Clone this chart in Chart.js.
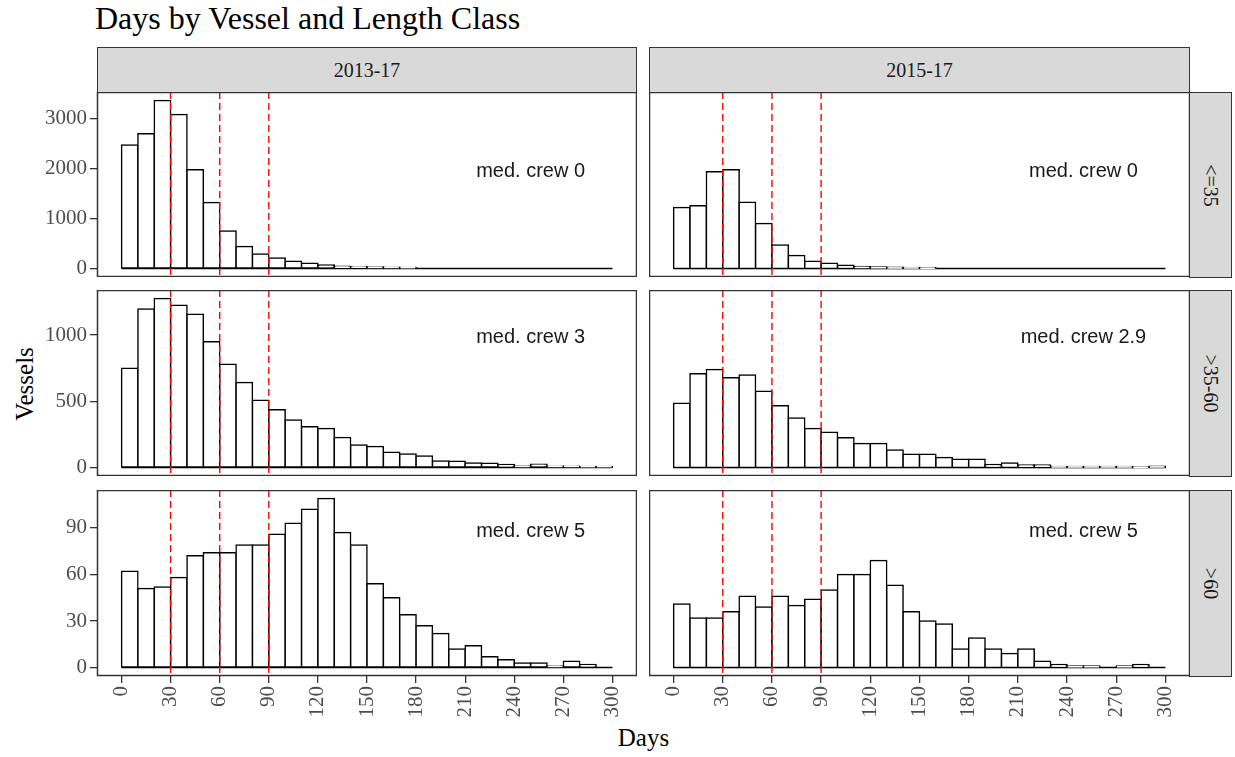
<!DOCTYPE html>
<html>
<head>
<meta charset="utf-8">
<script src="https://cdn.jsdelivr.net/npm/chart.js@4.4.1/dist/chart.umd.min.js"></script>
<style>
  body { margin: 0; background: #fff; width: 1235px; height: 757px; position: relative; overflow: hidden; font-family: "Liberation Serif", serif; }
  .box { position: absolute; }
  .strip { position: absolute; background: #d9d9d9; border: 1px solid #333; box-sizing: border-box;
           display: flex; align-items: center; justify-content: center; color: #1a1a1a; font-size: 20px; }
  .strip.side span { transform: rotate(90deg); white-space: nowrap; }
  #title { position: absolute; left: 95px; top: 2px; font-size: 32px; line-height: 32px; color: #000; white-space: nowrap; }
  #xtitle { position: absolute; left: 0; width: 1287px; top: 724px; text-align: center; font-size: 25px; color: #000; }
  #ytitle { position: absolute; left: 25px; top: 384px; font-size: 25px; color: #000; transform: translate(-50%, -50%) rotate(-90deg); white-space: nowrap; }
</style>
</head>
<body>
<div id="title">Days by Vessel and Length Class</div>
<div id="ytitle">Vessels</div>
<div id="xtitle">Days</div>

<script>
// bins of 10 days, 0..300
const binMids = [5, 15, 25, 35, 45, 55, 65, 75, 85, 95, 105, 115, 125, 135, 145,
                 155, 165, 175, 185, 195, 205, 215, 225, 235, 245, 255, 265, 275, 285, 295];
const xTicks = [0, 30, 60, 90, 120, 150, 180, 210, 240, 270, 300];
const cutoffDays = [30, 60, 90];

const periods = ["2013-17", "2015-17"];
const lengthClasses = ["<=35", ">35-60", ">60"];

// vessel counts per bin
const small1317 = [2467, 2693, 3360, 3080, 1973, 1320, 753, 440, 293, 213, 147, 107, 73, 45, 38,
                   32, 27, 22, 0, 0, 0, 0, 0, 0, 0, 0, 0, 0, 0, 0];
const small1517 = [1220, 1253, 1933, 1973, 1327, 900, 473, 260, 147, 107, 67, 40, 32, 25, 20,
                   15, 0, 0, 0, 0, 0, 0, 0, 0, 0, 0, 0, 0, 0, 0];
const mid1317 = [749, 1196, 1276, 1224, 1156, 950, 779, 641, 508, 437, 359, 307, 294, 226, 171,
                 158, 116, 103, 88, 50, 48, 35, 33, 23, 12, 25, 10, 10, 8, 8];
const mid1517 = [485, 708, 739, 678, 698, 575, 467, 374, 294, 266, 224, 181, 181, 133, 100,
                 100, 75, 63, 63, 23, 35, 20, 20, 8, 8, 8, 8, 8, 2, 10];
const large1317 = [62, 51, 52, 58, 72, 74, 74, 79, 79, 86, 93, 102, 109, 87, 79,
                   54, 45, 34, 27, 22, 12, 14, 7, 5, 3, 3, 1, 4, 2, 0];
const large1517 = [41, 32, 32, 36, 46, 39, 46, 40, 44, 50, 60, 60, 69, 53, 36,
                   30, 28, 12, 19, 12, 9, 12, 4, 2, 1, 1, 0, 1, 2, 0];

const yTicksSmall = [0, 1000, 2000, 3000];
const yTicksMid = [0, 500, 1000];
const yTicksLarge = [0, 30, 60, 90];

const crewSmall = ["med. crew 0", "med. crew 0"];
const crewMid = ["med. crew 3", "med. crew 2.9"];
const crewLarge = ["med. crew 5", "med. crew 5"];
const crewLabelX = 250;
const crewLabelY = [1950, 980, 88];

const rows = [
  { series: [small1317, small1517], yTicks: yTicksSmall, crew: crewSmall },
  { series: [mid1317, mid1517], yTicks: yTicksMid, crew: crewMid },
  { series: [large1317, large1517], yTicks: yTicksLarge, crew: crewLarge }
];

// panel geometry
const colLeft = [97, 649], colRight = [637, 1190];
const rowTop = [92, 290, 490], rowBottom = [277, 476, 676];
const axisLeft = 30, axisBottom = 732;
const tickFont = { family: "Liberation Serif", size: 21 };

function place(cls, x, y, w, h, text) {
  const d = document.createElement("div");
  d.className = cls;
  d.style.left = x + "px"; d.style.top = y + "px";
  d.style.width = w + "px"; d.style.height = h + "px";
  d.innerHTML = "<span></span>";
  d.firstChild.textContent = text;
  document.body.appendChild(d);
}

periods.forEach((p, c) => place("strip", colLeft[c], 47, colRight[c] - colLeft[c], 46, p));
lengthClasses.forEach((l, r) => place("strip side", 1189, rowTop[r], 43, rowBottom[r] - rowTop[r] + 1, l));

const panelDecor = {
  id: "panelDecor",
  beforeDatasetsDraw(chart) {
    const { ctx, scales: { x, y } } = chart;
    const y0 = y.getPixelForValue(0);
    ctx.save();
    ctx.strokeStyle = "#000";
    ctx.lineWidth = 1.5;
    ctx.beginPath();
    ctx.moveTo(x.getPixelForValue(xTicks[0]), y0);
    ctx.lineTo(x.getPixelForValue(xTicks[xTicks.length - 1]), y0);
    ctx.stroke();
    ctx.restore();
  },
  afterDatasetsDraw(chart, args, opts) {
    const { ctx, chartArea: a, scales: { x, y } } = chart;
    ctx.save();
    ctx.strokeStyle = "#ff0000";
    ctx.lineWidth = 1.4;
    ctx.setLineDash([7, 4]);
    cutoffDays.forEach(d => {
      const px = x.getPixelForValue(d);
      ctx.beginPath();
      ctx.moveTo(px, a.top);
      ctx.lineTo(px, a.bottom);
      ctx.stroke();
    });
    ctx.setLineDash([]);
    ctx.fillStyle = "#1a1a1a";
    ctx.font = '20px "Liberation Sans"';
    ctx.textAlign = "center";
    ctx.textBaseline = "middle";
    ctx.fillText(opts.label, x.getPixelForValue(crewLabelX), y.getPixelForValue(opts.labelY));
    ctx.strokeStyle = "#333";
    ctx.lineWidth = 1.5;
    ctx.strokeRect(a.left + 0.5, a.top + 0.5, a.right - a.left - 1, a.bottom - a.top - 1);
    ctx.restore();
  }
};

rows.forEach((row, r) => {
  const rowMax = Math.max(...row.series[0], ...row.series[1]);
  row.series.forEach((vals, c) => {
    const showY = c === 0, showX = r === 2;
    const left = showY ? axisLeft : colLeft[c];
    const bottom = showX ? axisBottom : rowBottom[r];
    const box = document.createElement("div");
    box.className = "box";
    box.style.left = left + "px";
    box.style.top = rowTop[r] + "px";
    box.style.width = (colRight[c] - left) + "px";
    box.style.height = (bottom - rowTop[r]) + "px";
    const cv = document.createElement("canvas");
    box.appendChild(cv);
    document.body.appendChild(box);

    new Chart(cv, {
      type: "bar",
      data: {
        datasets: [{
          data: binMids.map((m, i) => ({ x: m, y: vals[i] })),
          backgroundColor: "#ffffff",
          borderColor: "#000000",
          borderWidth: 1.5,
          borderSkipped: false,
          inflateAmount: 0.75,
          barPercentage: 1,
          categoryPercentage: 1
        }]
      },
      options: {
        responsive: true,
        maintainAspectRatio: false,
        animation: false,
        devicePixelRatio: 1,
        layout: { padding: 0 },
        plugins: {
          legend: { display: false },
          tooltip: { enabled: false },
          panelDecor: { label: row.crew[c], labelY: crewLabelY[r] }
        },
        scales: {
          x: {
            type: "linear",
            display: showX,
            offset: false,
            min: xTicks[0] - 0.05 * (xTicks[xTicks.length - 1] - xTicks[0]),
            max: xTicks[xTicks.length - 1] + 0.05 * (xTicks[xTicks.length - 1] - xTicks[0]),
            afterBuildTicks: s => { s.ticks = xTicks.map(v => ({ value: v })); },
            afterFit: s => {
              s.paddingLeft = 0; s.paddingRight = 0;
              if (showX) s.height = axisBottom - rowBottom[2];
            },
            border: { display: false },
            grid: { display: true, offset: false, drawOnChartArea: false, drawTicks: true, tickLength: 7, color: "#333", lineWidth: 1.3 },
            ticks: { color: "#4d4d4d", font: tickFont, minRotation: 90, maxRotation: 90, padding: 3, autoSkip: false }
          },
          y: {
            display: showY,
            min: -0.05 * rowMax,
            max: 1.05 * rowMax,
            afterBuildTicks: s => { s.ticks = row.yTicks.map(v => ({ value: v })); },
            afterFit: s => {
              s.paddingTop = 0; s.paddingBottom = 0;
              if (showY) s.width = colLeft[0] - axisLeft;
            },
            border: { display: false },
            grid: { display: true, drawOnChartArea: false, drawTicks: true, tickLength: 7, color: "#333", lineWidth: 1.3 },
            ticks: { color: "#4d4d4d", font: tickFont, padding: 3, callback: v => String(v) }
          }
        }
      },
      plugins: [panelDecor]
    });
  });
});
</script>
</body>
</html>
